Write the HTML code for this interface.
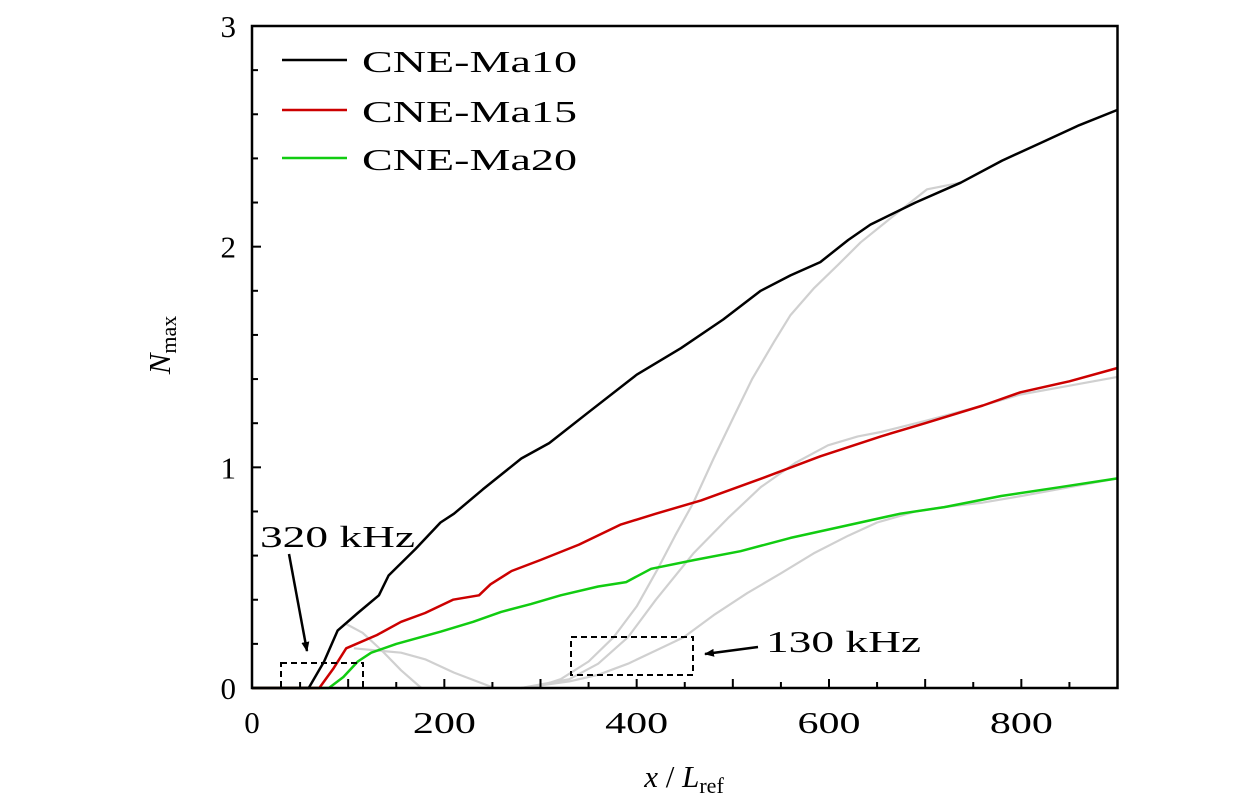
<!DOCTYPE html>
<html><head><meta charset="utf-8"><style>
html,body{margin:0;padding:0;background:#fff;}
svg{display:block;font-family:"Liberation Serif",serif;}
</style></head><body>
<svg id="chart" width="1260" height="811" viewBox="0 0 1260 811" xmlns="http://www.w3.org/2000/svg">
<g id="grays"></g>
<g id="series"></g>
<g id="axes"></g>
<rect x="281" y="663" width="82" height="25" fill="none" stroke="#000" stroke-width="2" stroke-dasharray="6,4"/>
<rect x="571" y="637" width="122" height="38" fill="none" stroke="#000" stroke-width="2" stroke-dasharray="6,4"/>
<defs><marker id="ah" markerWidth="10" markerHeight="8" refX="9" refY="4" orient="auto" markerUnits="userSpaceOnUse"><path d="M0,0 L10,4 L0,8 Z" fill="#000"/></marker></defs>
<line x1="289" y1="554" x2="307" y2="651" stroke="#000" stroke-width="2.5" marker-end="url(#ah)"/>
<line x1="758" y1="647" x2="705" y2="654" stroke="#000" stroke-width="2.5" marker-end="url(#ah)"/>
<text x="260" y="547" font-size="31" textLength="155" lengthAdjust="spacingAndGlyphs">320 kHz</text>
<text x="766" y="652" font-size="31" textLength="155" lengthAdjust="spacingAndGlyphs">130 kHz</text>
<g>
<line x1="282" y1="60" x2="347" y2="60" stroke="#000" stroke-width="2.5"/>
<text x="362" y="72" font-size="31" textLength="215" lengthAdjust="spacingAndGlyphs">CNE-Ma10</text>
<line x1="282" y1="110" x2="347" y2="110" stroke="#cc0000" stroke-width="2.5"/>
<text x="362" y="122" font-size="31" textLength="215" lengthAdjust="spacingAndGlyphs">CNE-Ma15</text>
<line x1="282" y1="158" x2="347" y2="158" stroke="#11cc11" stroke-width="2.5"/>
<text x="362" y="170" font-size="31" textLength="215" lengthAdjust="spacingAndGlyphs">CNE-Ma20</text>
</g>
<text x="684" y="787" font-size="31" text-anchor="middle"><tspan font-style="italic">x</tspan> / <tspan font-style="italic">L</tspan><tspan font-size="22" dy="6">ref</tspan></text>
<text transform="translate(170,345) rotate(-90)" font-size="31" text-anchor="middle"><tspan font-style="italic">N</tspan><tspan font-size="22" dy="6">max</tspan></text>
</svg>
<script>
const xTicks=[0,200,400,600,800];
const yTicks=[0,1,2,3];
const ma10X=[0,59,75,89,110,132,142,170,196,210,240,280,309,350,400,446,490,529,560,591,620,643,690,737,780,820,860,900];
const ma10Y=[0,0,0.12,0.26,0.34,0.42,0.51,0.63,0.75,0.79,0.9,1.04,1.11,1.25,1.42,1.54,1.67,1.8,1.87,1.93,2.03,2.1,2.2,2.29,2.39,2.47,2.55,2.62];
const ma15X=[0,70,85,98,130,155,180,209,236,248,270,300,340,383,420,467,530,591,654,700,760,799,850,900];
const ma15Y=[0,0,0.09,0.18,0.24,0.3,0.34,0.4,0.42,0.47,0.53,0.58,0.65,0.74,0.79,0.85,0.95,1.05,1.14,1.2,1.28,1.34,1.39,1.45];
const ma20X=[0,80,95,110,124,150,196,230,259,290,321,360,389,415,460,508,560,612,674,720,779,840,900];
const ma20Y=[0,0,0.05,0.12,0.16,0.2,0.255,0.3,0.345,0.38,0.42,0.46,0.48,0.54,0.58,0.62,0.68,0.73,0.79,0.82,0.87,0.91,0.95];
const gray1X=[98,115,135,155,176];
const gray1Y=[0.29,0.25,0.17,0.08,0];
const gray2X=[106,130,155,180,210,252];
const gray2Y=[0.18,0.17,0.16,0.13,0.07,0];
const gray3X=[252,280,300,321,350,376,400,422,440,459,480,501,520,543,560,584,610,633,670,702,737];
const gray3Y=[0,0,0.01,0.04,0.12,0.23,0.37,0.54,0.69,0.84,1.04,1.23,1.4,1.57,1.69,1.81,1.92,2.02,2.15,2.26,2.29];
const gray4X=[280,330,360,391,420,459,495,529,565,599,630,654,700,760,799,850,900];
const gray4Y=[0,0.04,0.11,0.23,0.4,0.61,0.77,0.91,1.02,1.1,1.14,1.16,1.21,1.28,1.33,1.37,1.41];
const gray5X=[280,330,360,391,420,449,480,515,550,584,620,650,690,719,760,800,850,900];
const gray5Y=[0,0.03,0.06,0.11,0.17,0.23,0.33,0.43,0.52,0.61,0.69,0.75,0.8,0.82,0.84,0.87,0.91,0.95];

const X0=252,X1=1117.5,Y0=688,Y1=26;
const sx=v=>X0+v/900*(X1-X0);
const sy=v=>Y0-v/3*(Y0-Y1);
const NS="http://www.w3.org/2000/svg";
function mk(tag,attrs,parent){const e=document.createElementNS(NS,tag);for(const k in attrs)e.setAttribute(k,attrs[k]);parent.appendChild(e);return e;}
function path(xs,ys){return xs.map((x,i)=>(i?'L':'M')+sx(x).toFixed(1)+','+sy(ys[i]).toFixed(1)).join(' ');}
const grays=document.getElementById('grays');
[[gray1X,gray1Y],[gray2X,gray2Y],[gray3X,gray3Y],[gray4X,gray4Y],[gray5X,gray5Y]].forEach((g,i)=>{
  const p=mk('path',{d:path(g[0],g[1]),fill:'none',stroke:'#d0d0d0','stroke-width':2.2,'stroke-linejoin':'round'},grays);
  
  
});
const ser=document.getElementById('series');
[[ma20X,ma20Y,'#11cc11','ma20'],[ma15X,ma15Y,'#cc0000','ma15'],[ma10X,ma10Y,'#000','ma10']].forEach(s=>{
  const p=mk('path',{d:path(s[0],s[1]),fill:'none',stroke:s[2],'stroke-width':2.5,'stroke-linejoin':'round'},ser);
  
  
});
const ax=document.getElementById('axes');
const fr=mk('rect',{x:X0,y:Y1,width:X1-X0,height:Y0-Y1,fill:'none',stroke:'#000','stroke-width':2.5},ax);


for(let v=50;v<900;v+=50){
  const t=mk('line',{x1:sx(v),x2:sx(v),y1:Y0,y2:Y0-(v%100===0?9:6),stroke:'#000','stroke-width':2},ax);
  
  
}
for(let k=1;k<15;k++){
  const v=k*0.2;
  const t=mk('line',{x1:X0,x2:X0+(k%5===0?9:6),y1:sy(v),y2:sy(v),stroke:'#000','stroke-width':2},ax);
  
  
}
xTicks.forEach(v=>{
  const t=mk('text',{x:sx(v),y:733,'font-size':31,'text-anchor':'middle'},ax);
  t.textContent=v;
  if(v>0){t.setAttribute('textLength',String(v).length*21);t.setAttribute('lengthAdjust','spacingAndGlyphs');}
  
  
});
yTicks.forEach(v=>{
  const t=mk('text',{x:236,y:sy(v)+11,'font-size':31,'text-anchor':'end'},ax);
  t.textContent=v;
  
  
});
</script>
</body></html>
